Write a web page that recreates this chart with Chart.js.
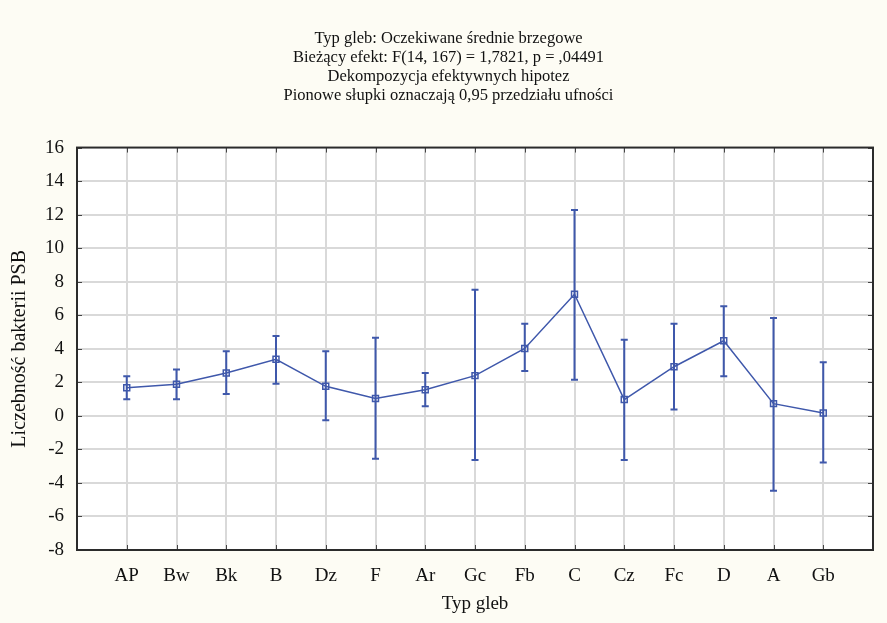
<!DOCTYPE html>
<html>
<head>
<meta charset="utf-8">
<script src="https://cdn.jsdelivr.net/npm/chart.js@4"></script>
<style>
  html, body { margin: 0; padding: 0; background: #fdfcf4; }
  #wrap { width: 887px; height: 623px; }
</style>
</head>
<body>
<div id="wrap"><canvas id="myChart" width="887" height="623"></canvas></div>
<script>
// soil types and PSB means with 0.95 confidence limits
const soilTypes = ["AP", "Bw", "Bk", "B", "Dz", "F", "Ar", "Gc", "Fb", "C", "Cz", "Fc", "D", "A", "Gb"];
const means = [1.68, 1.88, 2.55, 3.37, 1.76, 1.03, 1.56, 2.40, 4.02, 7.25, 0.97, 2.93, 4.48, 0.73, 0.17];
const upper = [2.36, 2.77, 3.85, 4.76, 3.85, 4.66, 2.55, 7.52, 5.49, 12.28, 4.54, 5.49, 6.54, 5.83, 3.19];
const lower = [0.99, 0.99, 1.30, 1.92, -0.26, -2.56, 0.57, -2.64, 2.67, 2.16, -2.64, 0.38, 2.36, -4.47, -2.78];
const yTicks = [-8, -6, -4, -2, 0, 2, 4, 6, 8, 10, 12, 14, 16];

const blue = "#3f58ab";
const serif = "'Liberation Serif', 'Times New Roman', serif";

const points = means.map((m, i) => ({ x: i + 1, y: m }));

// cream page, white plot area
const backdrop = {
  id: "backdrop",
  beforeDraw: (chart) => {
    const { ctx, chartArea: a } = chart;
    ctx.save();
    ctx.fillStyle = "#fdfcf4";
    ctx.fillRect(0, 0, chart.width, chart.height);
    ctx.fillStyle = "#ffffff";
    ctx.fillRect(a.left, a.top, a.right - a.left, a.bottom - a.top);
    ctx.restore();
  },
  afterDraw: (chart) => {
    const { ctx, chartArea: a, scales } = chart;
    ctx.save();
    // small inward tick marks on all four sides
    ctx.strokeStyle = "#444";
    ctx.lineWidth = 1;
    yTicks.forEach((v) => {
      const py = Math.round(scales.y.getPixelForValue(v)) + 0.5;
      ctx.beginPath();
      ctx.moveTo(a.left, py); ctx.lineTo(a.left + 5, py);
      ctx.moveTo(a.right, py); ctx.lineTo(a.right - 5, py);
      ctx.stroke();
    });
    soilTypes.forEach((c, i) => {
      const px = Math.round(scales.x.getPixelForValue(i + 1)) + 0.5;
      ctx.beginPath();
      ctx.moveTo(px, a.bottom); ctx.lineTo(px, a.bottom - 5);
      ctx.moveTo(px, a.top); ctx.lineTo(px, a.top + 5);
      ctx.stroke();
    });
    // frame
    ctx.strokeStyle = "#2b2b2b";
    ctx.lineWidth = 2;
    ctx.strokeRect(a.left, a.top, a.right - a.left, a.bottom - a.top);
    ctx.restore();
  },
};

// vertical confidence bars with caps
const errorBars = {
  id: "errorBars",
  afterDatasetsDraw: (chart) => {
    const { ctx, scales } = chart;
    ctx.save();
    ctx.strokeStyle = blue;
    ctx.lineWidth = 2;
    means.forEach((m, i) => {
      const px = scales.x.getPixelForValue(i + 1);
      const top = scales.y.getPixelForValue(upper[i]);
      const bot = scales.y.getPixelForValue(lower[i]);
      ctx.beginPath();
      ctx.moveTo(px, top); ctx.lineTo(px, bot);
      ctx.moveTo(px - 3.5, top); ctx.lineTo(px + 3.5, top);
      ctx.moveTo(px - 3.5, bot); ctx.lineTo(px + 3.5, bot);
      ctx.stroke();
    });
    ctx.restore();
  },
};

const ctx = document.getElementById("myChart").getContext("2d");
const myChart = new Chart(ctx, {
  type: "line",
  data: {
    datasets: [
      {
        label: "Liczebność bakterii PSB",
        data: points,
        borderColor: blue,
        borderWidth: 1.5,
        pointStyle: "rect",
        pointRadius: 4.2,
        pointBorderWidth: 1.5,
        pointBorderColor: blue,
        pointBackgroundColor: "rgba(255,255,255,0)",
        tension: 0,
      },
    ],
  },
  options: {
    responsive: false,
    animation: false,
    layout: { padding: { left: 24, right: 14, top: 0, bottom: 0 } },
    scales: {
      x: {
        type: "linear",
        min: 0,
        max: 16,
        afterBuildTicks: (scale) => {
          scale.ticks = soilTypes.map((c, i) => ({ value: i + 1 }));
        },
        afterFit: (scale) => { scale.height = 73; },
        ticks: {
          autoSkip: false,
          maxRotation: 0,
          padding: 15,
          color: "#111",
          font: { family: serif, size: 19 },
          callback: (v) => soilTypes[v - 1] || "",
        },
        grid: { color: "#d9d9d9", lineWidth: 2, drawTicks: false },
        border: { display: false },
        title: {
          display: true,
          text: "Typ gleb",
          color: "#111",
          font: { family: serif, size: 19 },
          padding: { top: 0, bottom: 8 },
        },
      },
      y: {
        min: -8,
        max: 16,
        afterBuildTicks: (scale) => {
          scale.ticks = yTicks.map((v) => ({ value: v }));
        },
        afterFit: (scale) => { scale.width = 53; },
        ticks: {
          padding: 13,
          color: "#111",
          font: { family: serif, size: 19 },
        },
        grid: {
          color: (c) => (c.tick && (c.tick.value === -8 || c.tick.value === 16) ? "rgba(0,0,0,0)" : "#d9d9d9"),
          lineWidth: 2,
          drawTicks: false,
        },
        border: { display: false },
        title: {
          display: true,
          text: "Liczebność bakterii PSB",
          color: "#111",
          font: { family: serif, size: 20 },
          padding: { top: -16, bottom: 0 },
        },
      },
    },
    plugins: {
      legend: { display: false },
      tooltip: { enabled: false },
      title: {
        display: true,
        text: [
          "Typ gleb: Oczekiwane średnie brzegowe",
          "Bieżący efekt: F(14, 167) = 1,7821, p = ,04491",
          "Dekompozycja efektywnych hipotez",
          "Pionowe słupki oznaczają 0,95 przedziału ufności",
        ],
        color: "#111",
        font: { family: serif, size: 16.5, weight: "normal", lineHeight: 1.16 },
        padding: { top: 29, bottom: 42 },
      },
    },
  },
  plugins: [backdrop, errorBars],
});
</script>
</body>
</html>
